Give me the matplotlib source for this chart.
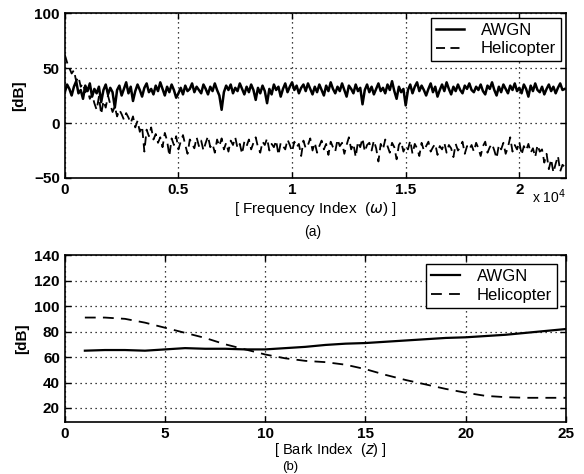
import numpy as np
import matplotlib.pyplot as plt

plt.rcParams["font.family"] = ["Liberation Sans", "DejaVu Sans"]

# ---- (a) spectra, one value every 100 frequency bins ----
freq_step = 100
awgn_spec = [
    28, 35, 31, 25, 33, 38, 27, 30, 22, 34, 29, 36, 24, 31, 27, 33, 19, 30, 35, 26,
    32, 28, 14, 30, 34, 25, 31, 37, 27, 33, 20, 29, 35, 30, 24, 32, 36, 28, 31, 26,
    34, 29, 37, 31, 25, 33, 28, 35, 30, 23, 27, 32, 26, 34, 29, 31, 36, 28, 33, 30,
    27, 35, 31, 26, 33, 29, 36, 30, 25, 12, 28, 34, 30, 35, 27, 32, 29, 36, 31, 26,
    33, 28, 35, 30, 21, 32, 27, 34, 29, 18, 31, 26, 35, 30, 33, 24, 31, 36, 28, 33,
    37, 30, 34, 27, 32, 35, 29, 36, 31, 26, 33, 28, 35, 30, 25, 34, 29, 37, 31, 27,
    33, 29, 36, 30, 24, 34, 31, 27, 35, 29, 32, 17, 30, 35, 28, 33, 26, 31, 36, 29,
    32, 27, 35, 30, 38, 29, 22, 33, 28, 31, 16, 30, 35, 27, 33, 37, 29, 34, 30, 25,
    31, 36, 28, 33, 24, 30, 35, 29, 37, 31, 26, 33, 29, 35, 30, 27, 34, 31, 36, 30,
    28, 33, 30, 35, 29, 26, 34, 31, 37, 30, 25, 33, 28, 35, 31, 27, 34, 30, 36, 29,
    32, 27, 35, 31, 24, 34, 29, 36, 30, 28, 33, 26, 31, 35, 29, 33, 27, 32, 36, 30,
    31,
]
heli_spec = [
    62, 55, 50, 45, 48, 38, 42, 33, 36, 28, 30, 22, 26, 18, 12, 24, 8, 20, 14, 25,
    17, 10, 15, 6, 12, 8, 3, 9, 5, 0, 6, -4, 2, -8, -3, -26, -6, -12, -4, -15,
    -10, -18, -13, -22, -9, -16, -30, -14, -20, -12, -24, -17, -11, -20, -28, -15, -19, -23, -13, -21,
    -16, -25, -18, -12, -22, -19, -27, -15, -21, -14, -24, -18, -26, -16, -20, -13, -23, -19, -28, -17,
    -21, -15, -24, -18, -13, -22, -27, -17, -20, -14, -25, -19, -22, -16, -29, -18, -21, -24, -15, -20,
    -26, -17, -22, -19, -30, -16, -23, -20, -14, -25, -18, -27, -21, -16, -24, -19, -29, -17, -22, -26,
    -15, -21, -18, -28, -20, -13, -24, -19, -31, -17, -22, -14, -26, -20, -18, -25, -16, -23, -35, -19,
    -24, -15, -21, -27, -18, -22, -33, -20, -17, -26, -21, -24, -16, -28, -19, -23, -30, -18, -25, -21,
    -17, -26, -22, -19, -29, -21, -24, -18, -27, -20, -23, -31, -19, -25, -22, -17, -28, -21, -24, -20,
    -26, -18, -23, -30, -21, -17, -27, -22, -19, -25, -32, -20, -24, -18, -28, -22, -13, -26, -20, -24,
    -17, -29, -21, -25, -19, -27, -23, -31, -20, -26, -24, -36, -28, -42, -33, -45, -37, -30, -44, -38,
    -40,
]

# ---- (b) Bark-band levels ----
bark = list(range(1, 26))
awgn_bark = [65, 65.5, 65.5, 65, 66, 67, 66.5, 66.5, 66, 66,
             67, 68, 69.5, 70.5, 71, 72, 73, 74, 75, 75.5,
             76.5, 77.5, 79, 80.5, 82]
heli_bark = [91, 91, 90, 87, 83, 79, 75, 70, 66, 62,
             59, 57, 56, 54, 50.5, 46, 42, 38.5, 35, 32,
             29.5, 28.5, 28, 28, 28]


def style_axes(ax):
    ax.grid(True, color="black", linestyle=(0, (1, 3)), linewidth=0.9)
    ax.tick_params(direction="in", top=True, right=True, labelsize=11,
                   length=4, width=1)
    for lbl in ax.get_xticklabels() + ax.get_yticklabels():
        lbl.set_fontweight("bold")
    for s in ax.spines.values():
        s.set_linewidth(1.2)


def add_legend(ax, pad):
    leg = ax.legend(loc="upper right", fancybox=False, edgecolor="black",
                    framealpha=1, fontsize=12, handlelength=1.7,
                    handletextpad=1.0, borderaxespad=pad, borderpad=0.3,
                    labelspacing=0.2)
    leg.get_frame().set_linewidth(1.0)
    return leg


fig = plt.figure(figsize=(5.84, 4.74), dpi=100)

# top panel
ax1 = fig.add_axes([0.111, 0.6245, 0.858, 0.348])
f_awgn = np.arange(len(awgn_spec)) * freq_step
f_heli = np.arange(len(heli_spec)) * freq_step
ax1.plot(f_awgn, awgn_spec, color="black", linewidth=1.8, label="AWGN")
ax1.plot(f_heli, heli_spec, color="black", linewidth=1.3,
         linestyle=(0, (5, 3)), label="Helicopter")
ax1.set_xlim(0, 22050)
ax1.set_ylim(-50, 100)
ax1.set_yticks([-50, 0, 50, 100])
ax1.set_xticks([0, 5000, 10000, 15000, 20000])
ax1.set_xticklabels(["0", "0.5", "1", "1.5", "2"])
style_axes(ax1)
ax1.set_ylabel("[dB]", fontsize=11, fontweight="bold", labelpad=6)
ax1.set_xlabel(r"[ Frequency Index  ($\omega$) ]", fontsize=11, labelpad=2)
ax1.text(1.0, -0.055, r"x 10$^4$", transform=ax1.transAxes, ha="right",
         va="top", fontsize=10)
fig.text(0.536, 0.51, "(a)", ha="center", va="center", fontsize=10)
add_legend(ax1, 0.3)

# bottom panel
ax2 = fig.add_axes([0.111, 0.1097, 0.858, 0.352])
ax2.plot(bark, awgn_bark, color="black", linewidth=1.6, label="AWGN")
ax2.plot(bark, heli_bark, color="black", linewidth=1.3,
         linestyle=(0, (6, 4)), label="Helicopter")
ax2.set_xlim(0, 25)
ax2.set_ylim(9, 140)
ax2.set_yticks([20, 40, 60, 80, 100, 120, 140])
ax2.set_xticks([0, 5, 10, 15, 20, 25])
style_axes(ax2)
ax2.set_ylabel("[dB]", fontsize=11, fontweight="bold", labelpad=4)
ax2.set_xlabel(r"[ Bark Index  ($z$) ]", fontsize=10.5)
ax2.xaxis.set_label_coords(0.53, -0.112)
fig.text(0.497, 0.014, "(b)", ha="center", va="center", fontsize=9.5)
add_legend(ax2, 0.55)

fig.savefig("out.png", dpi=100)
